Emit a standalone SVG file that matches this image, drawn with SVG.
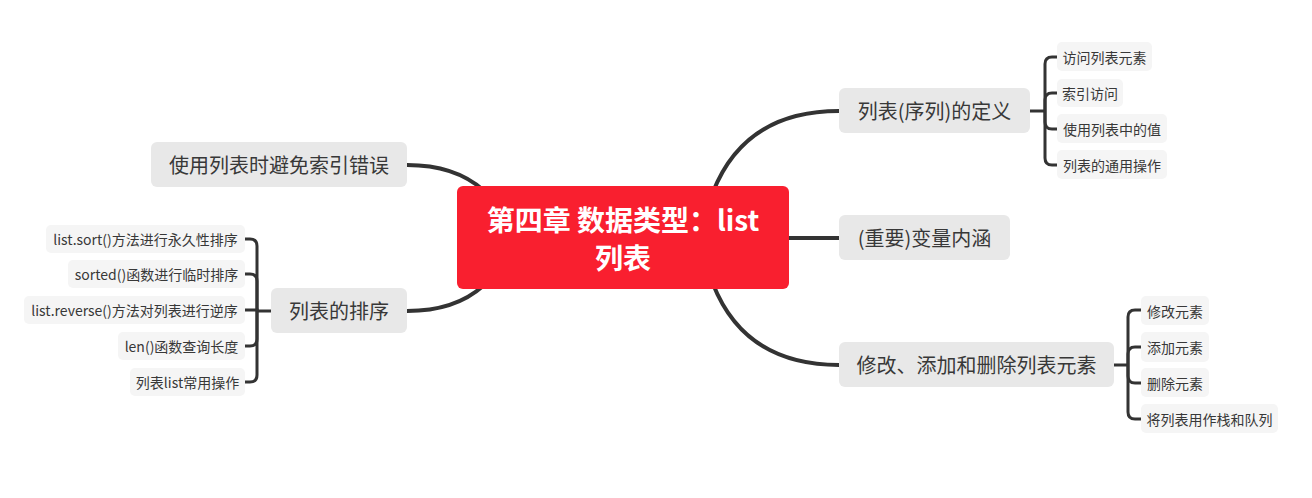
<svg xmlns="http://www.w3.org/2000/svg" width="1312" height="498" viewBox="0 0 1312 498">
<style>
text{font-family:"Noto Sans CJK SC","Liberation Sans",sans-serif;dominant-baseline:central;text-anchor:middle}
.main rect{fill:#E8E8E8}
.main text{font-size:20px;fill:#383838}
.sub rect{fill:#F5F5F5}
.sub text{font-size:14px;fill:#383838}
.c{fill:none;stroke:#333;stroke-width:4;stroke-linecap:round}
.b{fill:none;stroke:#333;stroke-width:3;stroke-linecap:butt}
</style>
<rect width="1312" height="498" fill="#fff"/>
<g id="connectors">
<path class="c" d="M713,192 Q745,111 839,111"/>
<path class="c" d="M789,238 H839"/>
<path class="c" d="M713,284 Q745,365 839,365"/>
<path class="c" d="M407,165 Q455,165 483,190"/>
<path class="c" d="M407,311 Q455,311 483,286"/>
<path class="b" d="M1030,111 H1045"/>
<path class="b" d="M1045,111 V64 Q1045,57 1052,57 H1057"/>
<path class="b" d="M1045,111 V100 Q1045,93 1052,93 H1057"/>
<path class="b" d="M1045,111 V122 Q1045,129 1052,129 H1057"/>
<path class="b" d="M1045,111 V158 Q1045,165 1052,165 H1057"/>
<path class="b" d="M1114,365 H1128"/>
<path class="b" d="M1128,365 V317 Q1128,310 1135,310 H1141"/>
<path class="b" d="M1128,365 V354 Q1128,347 1135,347 H1141"/>
<path class="b" d="M1128,365 V376 Q1128,383 1135,383 H1141"/>
<path class="b" d="M1128,365 V412 Q1128,419 1135,419 H1141"/>
<path class="b" d="M271,311 H257"/>
<path class="b" d="M257,311 V246 Q257,239 250,239 H245"/>
<path class="b" d="M257,311 V281 Q257,274 250,274 H245"/>
<path class="b" d="M257,311 V310 H245"/>
<path class="b" d="M257,311 V339 Q257,346 250,346 H245"/>
<path class="b" d="M257,311 V375 Q257,382 250,382 H245"/>
</g>
<g id="root">
<rect x="457" y="186" width="332" height="103" rx="6" fill="#F91F2F"/>
<text x="623" y="219" font-size="28" font-weight="bold" fill="#fff">第四章 数据类型：list</text>
<text x="623" y="257" font-size="28" font-weight="bold" fill="#fff">列表</text>
</g>
<g id="n1" class="main"><rect x="839" y="88" width="191" height="45" rx="6"/><text x="934.5" y="110.5">列表(序列)的定义</text></g>
<g id="n2" class="main"><rect x="839" y="215" width="171" height="45" rx="6"/><text x="924.5" y="237.5">(重要)变量内涵</text></g>
<g id="n3" class="main"><rect x="839" y="342" width="275" height="45" rx="6"/><text x="976.5" y="364.5">修改、添加和删除列表元素</text></g>
<g id="n4" class="main"><rect x="151" y="142" width="256" height="45" rx="6"/><text x="279" y="164.5">使用列表时避免索引错误</text></g>
<g id="n5" class="main"><rect x="271" y="288" width="136" height="45" rx="6"/><text x="339" y="310.5">列表的排序</text></g>
<g id="s11" class="sub"><rect x="1057" y="42" width="95" height="29" rx="5"/><text x="1104.5" y="56.5">访问列表元素</text></g>
<g id="s12" class="sub"><rect x="1057" y="79" width="66" height="28" rx="5"/><text x="1090" y="93">索引访问</text></g>
<g id="s13" class="sub"><rect x="1057" y="114" width="110" height="29" rx="5"/><text x="1112" y="128.5">使用列表中的值</text></g>
<g id="s14" class="sub"><rect x="1057" y="150" width="110" height="29" rx="5"/><text x="1112" y="164.5">列表的通用操作</text></g>
<g id="s31" class="sub"><rect x="1141" y="296" width="68" height="29" rx="5"/><text x="1175" y="310.5">修改元素</text></g>
<g id="s32" class="sub"><rect x="1141" y="332" width="68" height="30" rx="5"/><text x="1175" y="347">添加元素</text></g>
<g id="s33" class="sub"><rect x="1141" y="368" width="68" height="29" rx="5"/><text x="1175" y="382.5">删除元素</text></g>
<g id="s34" class="sub"><rect x="1141" y="404" width="137" height="29" rx="5"/><text x="1209.5" y="418.5">将列表用作栈和队列</text></g>
<g id="s51" class="sub"><rect x="46" y="225" width="199" height="28" rx="5"/><text x="145.5" y="239">list.sort()方法进行永久性排序</text></g>
<g id="s52" class="sub"><rect x="68" y="260" width="177" height="28" rx="5"/><text x="156.5" y="274">sorted()函数进行临时排序</text></g>
<g id="s53" class="sub"><rect x="24" y="296" width="221" height="28" rx="5"/><text x="134.5" y="310">list.reverse()方法对列表进行逆序</text></g>
<g id="s54" class="sub"><rect x="118" y="332" width="127" height="28" rx="5"/><text x="181.5" y="346">len()函数查询长度</text></g>
<g id="s55" class="sub"><rect x="130" y="368" width="115" height="28" rx="5"/><text x="187.5" y="382">列表list常用操作</text></g>
</svg>
